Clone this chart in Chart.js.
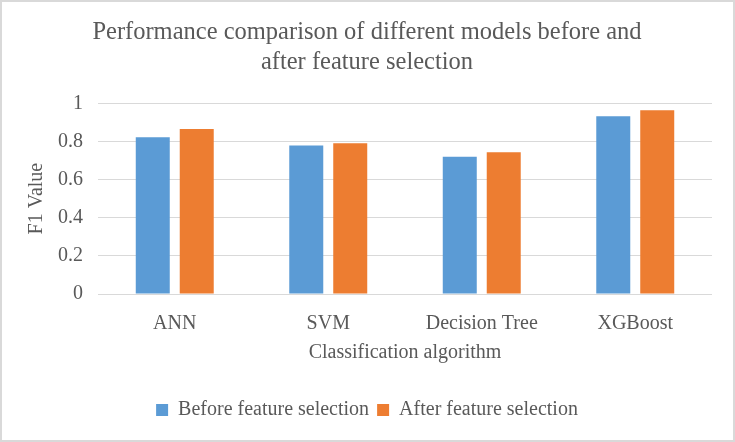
<!DOCTYPE html>
<html>
<head>
<meta charset="utf-8">
<script src="https://cdn.jsdelivr.net/npm/chart.js@4"></script>
<style>
  html, body { margin: 0; padding: 0; background: #fff; }
  #wrap { width: 735px; height: 442px; box-sizing: border-box; border: 2px solid #d9d9d9; }
  #wrap canvas { display: block; }
</style>
</head>
<body>
<div id="wrap"><canvas id="f1Chart" width="731" height="438"></canvas></div>
<script>
const categories = ["ANN", "SVM", "Decision Tree", "XGBoost"];
const beforeSelection = [0.822, 0.778, 0.72, 0.932];
const afterSelection = [0.865, 0.79, 0.743, 0.963];
const yTicks = [0, 0.2, 0.4, 0.6, 0.8, 1];

const textColor = "#595959";
const fontFamily = "'Liberation Serif', 'Times New Roman', serif";

const ctx = document.getElementById("f1Chart").getContext("2d");
new Chart(ctx, {
    type: "bar",
    data: {
        labels: categories,
        datasets: [{
            label: "Before feature selection",
            data: beforeSelection,
            backgroundColor: "#5B9BD5",
            barPercentage: 0.773,
            categoryPercentage: 0.573
        }, {
            label: "After feature selection",
            data: afterSelection,
            backgroundColor: "#ED7D31",
            barPercentage: 0.773,
            categoryPercentage: 0.573
        }]
    },
    options: {
        responsive: false,
        animation: false,
        layout: { padding: { left: 20, right: 21, top: 0, bottom: 10 } },
        plugins: {
            title: {
                display: true,
                text: ["Performance comparison of different models before and", "after feature selection"],
                color: textColor,
                font: { family: fontFamily, size: 24.5, weight: "normal", lineHeight: 1.23 },
                padding: { top: 15, bottom: 26 }
            },
            legend: {
                position: "bottom",
                labels: {
                    color: textColor,
                    font: { family: fontFamily, size: 20 },
                    boxWidth: 12,
                    boxHeight: 12,
                    padding: 8
                }
            },
            tooltip: { enabled: false }
        },
        scales: {
            x: {
                grid: { display: false },
                border: { display: false },
                ticks: { color: textColor, font: { family: fontFamily, size: 20 }, padding: 10 },
                title: {
                    display: true,
                    text: "Classification algorithm",
                    color: textColor,
                    font: { family: fontFamily, size: 20 },
                    padding: { top: 0, bottom: 27 }
                },
                afterFit(scale) { scale.height = 98; }
            },
            y: {
                min: 0,
                max: 1,
                afterBuildTicks(scale) { scale.ticks = yTicks.map(v => ({ value: v })); },
                grid: { color: "#d9d9d9", lineWidth: 1, drawTicks: false },
                border: { display: false },
                ticks: {
                    color: textColor,
                    font: { family: fontFamily, size: 20 },
                    padding: 15,
                    callback: value => String(value)
                },
                title: {
                    display: true,
                    text: "F1 Value",
                    color: textColor,
                    font: { family: fontFamily, size: 20 },
                    padding: { top: 3, bottom: 0 }
                },
                afterFit(scale) { scale.width = 76; }
            }
        }
    }
});
</script>
</body>
</html>
